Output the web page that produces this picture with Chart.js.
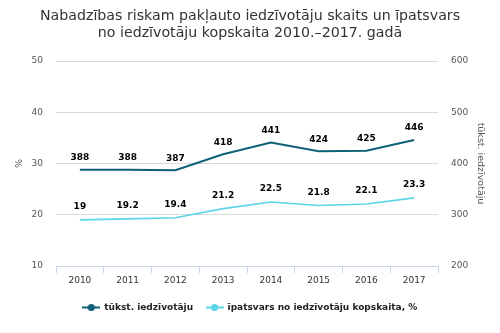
<!DOCTYPE html>
<html>
<head>
<meta charset="utf-8">
<script src="https://cdn.jsdelivr.net/npm/chart.js@4/dist/chart.umd.min.js"></script>
<style>
html,body{margin:0;padding:0;background:#fff;}
#wrap{width:500px;height:333px;position:relative;}
</style>
</head>
<body>
<div id="wrap"><canvas id="c" width="500" height="333"></canvas></div>
<script>
const titleLines = ['Nabadzības riskam pakļauto iedzīvotāju skaits un īpatsvars', 'no iedzīvotāju kopskaita 2010.–2017. gadā'];
const years = ['2010', '2011', '2012', '2013', '2014', '2015', '2016', '2017'];
const residents = [388, 388, 387, 418, 441, 424, 425, 446];
const shares = [19, 19.2, 19.4, 21.2, 22.5, 21.8, 22.1, 23.3];
const residentsLabel = 'tūkst. iedzīvotāju';
const sharesLabel = 'īpatsvars no iedzīvotāju kopskaita, %';
const leftTicks = [10, 20, 30, 40, 50];
const rightTicks = [200, 300, 400, 500, 600];
const leftTitle = '%';
const rightTitle = 'tūkst. iedzīvotāju';

const DARK = '#0e6177';
const LIGHT = '#5ad5e9';
const FONT = "'DejaVu Sans', Verdana, sans-serif";

function legendIcon(color) {
  const c = document.createElement('canvas');
  c.width = 18; c.height = 9;
  const g = c.getContext('2d');
  g.strokeStyle = color; g.lineWidth = 2;
  g.beginPath(); g.moveTo(0, 4.5); g.lineTo(18, 4.5); g.stroke();
  g.fillStyle = color;
  g.beginPath(); g.arc(9, 4.5, 3.6, 0, Math.PI * 2); g.fill();
  return c;
}

const dataLabels = {
  id: 'dataLabels',
  afterDatasetsDraw(chart) {
    const ctx = chart.ctx;
    ctx.save();
    ctx.font = "bold 9px " + FONT;
    ctx.fillStyle = '#000';
    ctx.textAlign = 'center';
    ctx.textBaseline = 'middle';
    chart.data.datasets.forEach((ds, i) => {
      const meta = chart.getDatasetMeta(i);
      meta.data.forEach((pt, j) => {
        ctx.fillText(String(ds.data[j]), pt.x, pt.y - (i === 0 ? 12 : 13));
      });
    });
    ctx.restore();
  }
};

const PAD_BOTTOM = 11;
const AREA_LEFT = 56, AREA_RIGHT = 438, AREA_BOTTOM = 266;

new Chart(document.getElementById('c'), {
  type: 'line',
  data: {
    labels: years,
    datasets: [
      { label: residentsLabel, data: residents, yAxisID: 'y1', borderColor: DARK, backgroundColor: DARK,
        borderWidth: 2, pointRadius: 0, tension: 0 },
      { label: sharesLabel, data: shares, yAxisID: 'y', borderColor: LIGHT, backgroundColor: LIGHT,
        borderWidth: 1.6, pointRadius: 0, tension: 0 }
    ]
  },
  options: {
    responsive: false,
    animation: false,
    devicePixelRatio: 1,
    layout: { padding: { left: 10, right: 10, top: 0, bottom: PAD_BOTTOM } },
    plugins: {
      tooltip: { enabled: false },
      title: {
        display: true,
        text: titleLines,
        color: '#333',
        font: { family: FONT, size: 14.2, weight: 'normal', lineHeight: '17px' },
        padding: { top: 7.5, bottom: 19.5 }
      },
      legend: {
        position: 'bottom',
        labels: {
          color: '#222',
          font: { family: FONT, size: 9, weight: 'bold' },
          usePointStyle: true,
          pointStyleWidth: 17,
          padding: 13,
          generateLabels(chart) {
            return chart.data.datasets.map((ds, i) => ({
              text: ds.label,
              pointStyle: legendIcon(ds.borderColor),
              fillStyle: ds.borderColor,
              strokeStyle: ds.borderColor,
              lineWidth: 0,
              fontColor: '#222',
              hidden: false,
              datasetIndex: i
            }));
          }
        }
      }
    },
    scales: {
      x: {
        type: 'category',
        offset: true,
        grid: { offset: true, drawOnChartArea: false, drawTicks: true, tickLength: 7, color: '#ccd6eb' },
        border: { display: true, color: '#ccd6eb' },
        ticks: { color: '#333', font: { family: FONT, size: 9 }, padding: 2, maxRotation: 0, autoSkip: false },
        afterFit(s) { s.height = 333 - PAD_BOTTOM - s.chart.legend.height - AREA_BOTTOM; }
      },
      y: {
        position: 'left',
        min: 10, max: 50,
        afterBuildTicks(s) { s.ticks = leftTicks.map(v => ({ value: v })); },
        grid: { color: '#dadada', drawTicks: false },
        border: { display: false },
        ticks: { color: '#555', font: { family: FONT, size: 9 }, padding: 13 },
        title: { display: true, text: leftTitle, color: '#555', font: { family: FONT, size: 9.5 }, padding: 4 },
        afterFit(s) { s.width = AREA_LEFT - 10; }
      },
      y1: {
        position: 'right',
        min: 200, max: 600,
        afterBuildTicks(s) { s.ticks = rightTicks.map(v => ({ value: v })); },
        grid: { drawOnChartArea: false, drawTicks: false },
        border: { display: false },
        ticks: { color: '#555', font: { family: FONT, size: 9 }, padding: 13 },
        title: { display: true, text: rightTitle, color: '#555', font: { family: FONT, size: 9.5 }, padding: 4 },
        afterFit(s) { s.width = 500 - 10 - AREA_RIGHT; }
      }
    }
  },
  plugins: [dataLabels]
});
</script>
</body>
</html>
